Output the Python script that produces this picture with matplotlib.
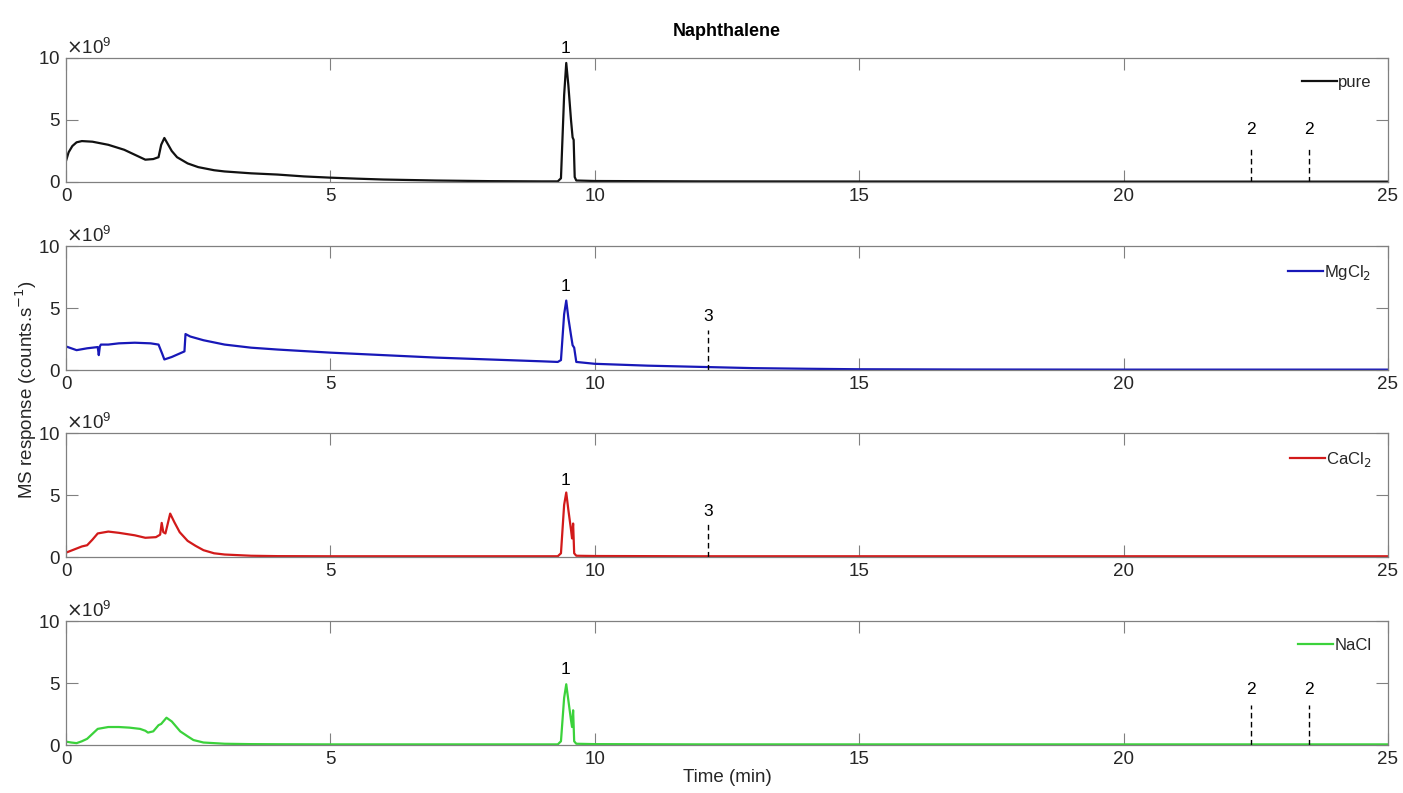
import numpy as np
import matplotlib
matplotlib.use('Agg')
import matplotlib.pyplot as plt
from matplotlib.ticker import ScalarFormatter

plt.rcParams['font.family'] = ['Liberation Sans', 'DejaVu Sans']

# traces, values in units of 1e9 counts/s
t_pure = [0, 0.05, 0.12, 0.2, 0.3, 0.5, 0.8, 1.1, 1.4, 1.5, 1.65, 1.75, 1.8, 1.86, 1.92, 2.0, 2.1, 2.3, 2.5, 2.8, 3.0,
          3.5, 4.0, 4.5, 5.0, 5.5, 6.0, 7.0, 8.0, 9.0, 9.3, 9.36, 9.42, 9.46, 9.5, 9.55, 9.58, 9.6, 9.62, 9.65, 10.0,
          12.0, 15.0, 20.0, 25.0]
v_pure = [1.7, 2.4, 2.9, 3.2, 3.3, 3.25, 3.0, 2.6, 2.0, 1.8, 1.85, 2.0, 3.0, 3.55, 3.1, 2.5, 2.0, 1.5, 1.2, 0.95, 0.85,
          0.7, 0.6, 0.45, 0.35, 0.27, 0.2, 0.12, 0.07, 0.05, 0.05, 0.3, 7.0, 9.6, 7.8, 5.0, 3.6, 3.4, 0.4, 0.12, 0.08,
          0.05, 0.04, 0.03, 0.03]

t_mg = [0, 0.1, 0.2, 0.4, 0.6, 0.62, 0.64, 0.66, 0.8, 1.0, 1.3, 1.6, 1.75, 1.82, 1.86, 2.0, 2.24, 2.26, 2.35, 2.6, 3.0,
        3.5, 4.0, 5.0, 6.0, 7.0, 8.0, 9.0, 9.3, 9.36, 9.42, 9.46, 9.5, 9.55, 9.58, 9.61, 9.65, 10.0, 11.0, 12.0, 13.0,
        14.0, 15.0, 17.0, 20.0, 25.0]
v_mg = [1.9, 1.75, 1.6, 1.75, 1.85, 1.2, 1.9, 2.05, 2.05, 2.15, 2.2, 2.15, 2.05, 1.3, 0.85, 1.05, 1.5, 2.9, 2.7, 2.4,
        2.05, 1.8, 1.65, 1.4, 1.2, 1.0, 0.85, 0.7, 0.65, 0.8, 4.5, 5.6, 4.2, 2.8, 2.0, 1.8, 0.65, 0.5, 0.35, 0.25,
        0.15, 0.1, 0.06, 0.04, 0.03, 0.03]

t_ca = [0, 0.15, 0.3, 0.4, 0.5, 0.6, 0.8, 1.0, 1.3, 1.5, 1.7, 1.78, 1.81, 1.84, 1.88, 1.97, 2.05, 2.15, 2.3, 2.45, 2.6,
        2.8, 3.0, 3.5, 4.0, 5.0, 7.0, 9.0, 9.3, 9.36, 9.42, 9.46, 9.5, 9.55, 9.57, 9.59, 9.61, 9.65, 10.0, 12.0,
        15.0, 20.0, 25.0]
v_ca = [0.35, 0.6, 0.85, 0.95, 1.4, 1.9, 2.05, 1.95, 1.75, 1.55, 1.6, 1.8, 2.75, 2.0, 1.9, 3.5, 2.8, 2.0, 1.3, 0.9,
        0.55, 0.3, 0.2, 0.1, 0.07, 0.06, 0.06, 0.06, 0.06, 0.3, 4.2, 5.2, 3.8, 2.2, 1.5, 2.7, 0.3, 0.1, 0.08, 0.06,
        0.06, 0.06, 0.06]

t_na = [0, 0.1, 0.2, 0.3, 0.4, 0.5, 0.6, 0.8, 1.0, 1.2, 1.4, 1.5, 1.55, 1.65, 1.75, 1.8, 1.9, 2.0, 2.16, 2.3, 2.41,
        2.6, 3.0, 3.5, 4.0, 5.0, 7.0, 9.0, 9.3, 9.36, 9.42, 9.46, 9.5, 9.55, 9.57, 9.59, 9.61, 9.65, 10.0, 12.0,
        15.0, 20.0, 25.0]
v_na = [0.27, 0.2, 0.15, 0.3, 0.5, 0.9, 1.3, 1.45, 1.45, 1.4, 1.3, 1.15, 1.0, 1.1, 1.6, 1.7, 2.2, 1.9, 1.1, 0.7, 0.4,
        0.2, 0.1, 0.07, 0.06, 0.05, 0.05, 0.05, 0.05, 0.3, 3.8, 4.9, 3.6, 2.0, 1.45, 2.8, 0.3, 0.1, 0.07, 0.05,
        0.05, 0.05, 0.05]

series = [
    ('pure', t_pure, v_pure, '#111111'),
    ('MgCl$_2$', t_mg, v_mg, '#1818B8'),
    ('CaCl$_2$', t_ca, v_ca, '#D21A1A'),
    ('NaCl', t_na, v_na, '#3BD23B'),
]

# peak annotations per panel: (x, label, label height, dashed line top); peak '1' has no line
peak1_x = 9.45
peak1_y = [10.8, 6.7, 6.2, 6.1]
marks = [
    [(22.4, '2', 4.2, 2.85), (23.5, '2', 4.2, 2.85)],
    [(12.15, '3', 4.3, 3.2)],
    [(12.15, '3', 3.7, 2.9)],
    [(22.4, '2', 4.5, 3.25), (23.5, '2', 4.5, 3.25)],
]

fig = plt.figure(figsize=(14.03, 7.93), dpi=100)
bottoms = [1 - 182 / 793, 1 - 370 / 793, 1 - 557 / 793, 1 - 745 / 793]
left = 66 / 1403
width = (1388 - 66) / 1403
height = 124 / 793

spine_col = '#808080'
text_col = '#262626'

for i, (name, t, v, col) in enumerate(series):
    ax = fig.add_axes([left, bottoms[i], width, height])
    ax.plot(t, np.array(v) * 1e9, color=col, lw=1.6, label=name)
    ax.set_xlim(0, 25)
    ax.set_ylim(0, 10e9)
    ax.set_xticks([0, 5, 10, 15, 20, 25])
    ax.set_yticks([0, 5e9, 10e9])
    fmt = ScalarFormatter(useMathText=True)
    fmt.set_powerlimits((9, 9))
    ax.yaxis.set_major_formatter(fmt)
    ax.yaxis.get_offset_text().set_fontsize(13.5)
    ax.yaxis.get_offset_text().set_color(text_col)
    ax.tick_params(direction='in', length=8.5, width=0.8, colors=spine_col, labelcolor=text_col,
                   labelsize=13.5, top=True, right=True, pad=4)
    for s in ax.spines.values():
        s.set_color(spine_col)
        s.set_linewidth(0.9)

    ax.text(peak1_x, peak1_y[i] * 1e9, '1', ha='center', va='center', fontsize=12.5, color='black')
    for x, lab, ty, top in marks[i]:
        ax.plot([x, x], [0, top * 1e9], color='black', ls='--', lw=1.0, dashes=(4, 2.5))
        ax.text(x, ty * 1e9, lab, ha='center', va='center', fontsize=12.5, color='black')

    leg = ax.legend(loc='upper right', frameon=False, fontsize=12, handlelength=2.1,
                    handletextpad=0.05, borderaxespad=0.6)
    for txt in leg.get_texts():
        txt.set_color(text_col)

    if i == 0:
        ax.set_title('Naphthalene', fontsize=13, fontweight='bold', pad=16)
    if i == 3:
        ax.set_xlabel('Time (min)', fontsize=13.5, color=text_col, labelpad=1)

fig.text(26 / 1403, 1 - 390 / 793, 'MS response (counts.s$^{-1}$)', rotation=90,
         ha='center', va='center', fontsize=13.5, color=text_col)

fig.savefig('out.png', dpi=100)
